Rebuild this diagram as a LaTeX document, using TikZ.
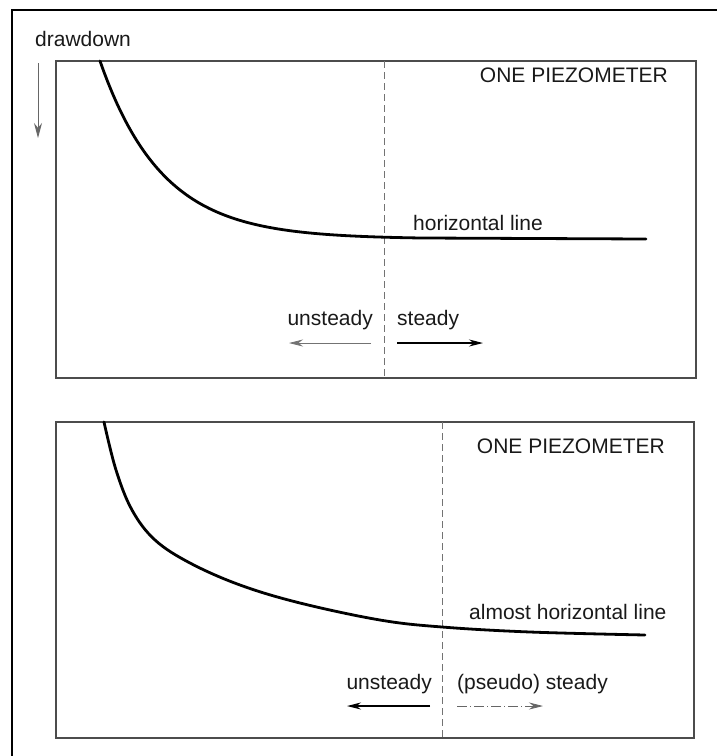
\documentclass[tikz,border=0pt]{standalone}
\usepackage{fontspec}
\setmainfont{Liberation Sans}
\usetikzlibrary{arrows.meta}
\begin{document}
\begin{tikzpicture}[x=1pt,y=-1pt,
  lbl/.style={inner sep=0pt, font=\fontsize{21}{24}\selectfont, text=black!90},
  panel/.style={draw=black!70, line width=1.4pt},
  divider/.style={draw=black!55, line width=0.9pt, dash pattern=on 7pt off 4pt},
  curve/.style={line width=2.8pt, line cap=round},
  tip/.style={-{Stealth[length=14pt,width=7pt]}},
]
\useasboundingbox (0,0) rectangle (716,756);
% outer frame
\draw[line width=2pt] (12,770) -- (12,10) -- (730,10);
% drawdown label and arrow
\node[lbl, anchor=base west] (dd) at (35,46) {drawdown};
\coordinate (ddA) at (38,63);
\coordinate (ddB) at (38,138);
\draw[-{Stealth[length=15pt,width=8pt]}, draw=black!60, line width=0.9pt] (ddA) -- (ddB);

% ---------- top panel ----------
\draw[panel] (56,61) rectangle (696,378);
\draw[divider] (384,61) -- (384,378);
\draw[curve] plot[domain=100:420, samples=80] (\x,{239-178*exp(-(\x-100)/62)}) -- (646,239);
\node[lbl, anchor=base east] (p1) at (668,82) {ONE PIEZOMETER};
\node[lbl, anchor=base west] (h1) at (413,230) {horizontal line};
\node[lbl, anchor=base east] (u1) at (373,325) {unsteady};
\node[lbl, anchor=base west] (s1) at (397,325) {steady};
\coordinate (u1a) at (371,343);
\coordinate (u1b) at (289,343);
\coordinate (s1a) at (397,343);
\coordinate (s1b) at (483,343);
\draw[tip, draw=black!55, line width=0.8pt] (u1a) -- (u1b);
\draw[tip, line width=1.2pt] (s1a) -- (s1b);

% ---------- bottom panel ----------
\draw[panel] (56,422) rectangle (694,738);
\draw[divider] (442,422) -- (442,738);
\draw[curve] plot[smooth, tension=0.6] coordinates {(104,422) (116,470) (132,510) (155,540) (190,563) (240,585) (300,603) (380,620) (442,627) (530,632) (645,635)};
\node[lbl, anchor=base east] (p2) at (665,453) {ONE PIEZOMETER};
\node[lbl, anchor=base west] (h2) at (469,619) {almost horizontal line};
\node[lbl, anchor=base east] (u2) at (432,689) {unsteady};
\node[lbl, anchor=base west] (s2) at (457,689) {(pseudo) steady};
\coordinate (u2a) at (430,706);
\coordinate (u2b) at (347,706);
\coordinate (s2a) at (457,706);
\coordinate (s2b) at (543,706);
\draw[tip, line width=1.3pt] (u2a) -- (u2b);
\draw[tip, draw=black!60, line width=0.8pt, dash pattern=on 10pt off 3pt on 1pt off 3pt] (s2a) -- (s2b);
\end{tikzpicture}
\end{document}
